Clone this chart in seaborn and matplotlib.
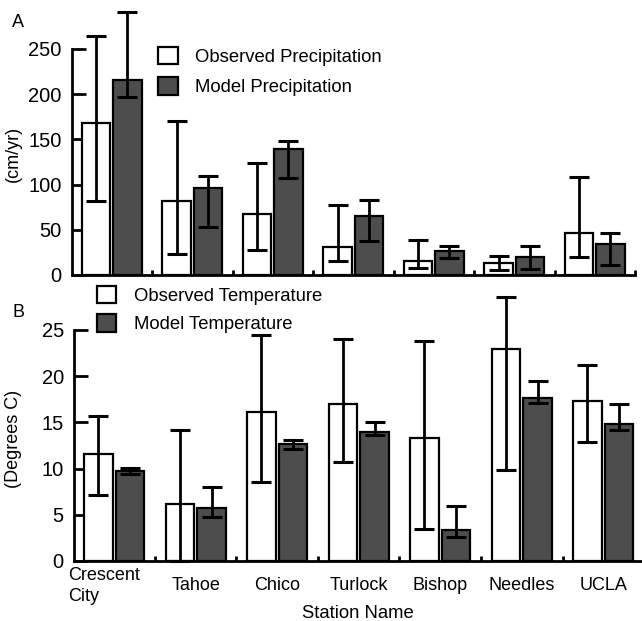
import matplotlib
matplotlib.use("Agg")
import matplotlib.pyplot as plt
import matplotlib.transforms as mtransforms
from matplotlib.ticker import FixedLocator
import seaborn as sns
import pandas as pd

# ---------------- data ----------------
stations = ["Crescent\nCity", "Tahoe", "Chico", "Turlock", "Bishop", "Needles", "UCLA"]

precip_names = ["Observed Precipitation", "Model Precipitation"]
obs_precip = [168, 82, 67, 31, 15, 13, 46]
obs_precip_lo = [82, 23, 28, 16, 8, 5, 20]
obs_precip_hi = [264, 170, 124, 77, 39, 21, 108]
model_precip = [216, 96, 139, 65, 26, 20, 34]
model_precip_lo = [197, 53, 107, 38, 19, 7, 11]
model_precip_hi = [291, 110, 148, 83, 32, 32, 47]

temp_names = ["Observed Temperature", "Model Temperature"]
obs_temp = [11.6, 6.2, 16.1, 17.0, 13.3, 22.9, 17.3]
obs_temp_lo = [7.1, 0.0, 8.5, 10.7, 3.5, 9.8, 12.9]
obs_temp_hi = [15.7, 14.2, 24.5, 24.0, 23.8, 28.6, 21.2]
model_temp = [9.7, 5.7, 12.7, 14.0, 3.4, 17.6, 14.8]
model_temp_lo = [9.4, 4.8, 12.1, 13.6, 2.6, 17.1, 14.2]
model_temp_hi = [10.1, 8.0, 13.1, 15.0, 6.0, 19.5, 17.0]

precip_ticks = [0, 50, 100, 150, 200, 250]
temp_ticks = [0, 5, 10, 15, 20, 25]

# ---------------- style ----------------
sns.set_theme(style="ticks", rc={
    "text.color": "black", "axes.labelcolor": "black",
    "xtick.color": "black", "ytick.color": "black",
    "axes.edgecolor": "black",
})
plt.rcParams["font.family"] = ["Liberation Sans", "DejaVu Sans"]

W, H = 642, 621
fig = plt.figure(figsize=(W / 100, H / 100), dpi=100)
ax1 = fig.add_axes([71.5 / W, 1 - 275 / H, 563.5 / W, 271.2 / H])
ax2 = fig.add_axes([73.5 / W, 1 - 561 / H, 570.5 / W, 272.6 / H])


def panel(ax, names, obs, obs_lo, obs_hi, mod, mod_lo, mod_hi, ymax, yticks,
          legend_xy, labelspacing):
    df = pd.DataFrame({
        "station": stations * 2,
        "series": [names[0]] * len(stations) + [names[1]] * len(stations),
        "value": list(obs) + list(mod),
    })
    sns.barplot(data=df, x="station", y="value", hue="series",
                order=stations, hue_order=names,
                palette={names[0]: "white", names[1]: "#4d4d4d"},
                saturation=1, width=0.78, gap=0.1,
                edgecolor="black", linewidth=1.6,
                errorbar=None, legend=False, ax=ax)
    bars = list(ax.containers)
    for cont, vals, lo, hi in zip(bars, [obs, mod], [obs_lo, mod_lo], [obs_hi, mod_hi]):
        xs = [p.get_x() + p.get_width() / 2 for p in cont.patches]
        yerr = [[v - l for v, l in zip(vals, lo)], [h - v for v, h in zip(vals, hi)]]
        ax.errorbar(xs, vals, yerr=yerr, fmt="none", ecolor="black",
                    elinewidth=2.0, capsize=7.2, capthick=2.2, zorder=3,
                    clip_on=False)

    ax.set_xlim(-0.5, len(stations) - 0.5)
    ax.set_ylim(0, ymax)
    ax.set_yticks(yticks)
    ax.set_yticklabels([str(t) for t in yticks])
    sns.despine(ax=ax)
    ax.spines["left"].set_bounds(yticks[0], yticks[-1])
    for s in ("left", "bottom"):
        ax.spines[s].set_linewidth(2.0)
    ax.set_axisbelow(True)
    ax.tick_params(axis="y", direction="in", length=10, width=2,
                   labelsize=14.5, pad=7)
    ax.xaxis.set_minor_locator(FixedLocator([i + 0.5 for i in range(len(stations))]))
    ax.tick_params(axis="x", which="minor", direction="in", length=3.5, width=2)
    ax.tick_params(axis="x", which="major", length=0)

    handles = [c.patches[0] for c in bars]
    ax.legend(handles, names, loc="upper left",
              bbox_to_anchor=(legend_xy[0] / W, 1 - legend_xy[1] / H),
              bbox_transform=fig.transFigure, frameon=False, fontsize=13.3,
              handlelength=1.08, handleheight=1.08, handletextpad=0.95,
              labelspacing=labelspacing, borderpad=0, borderaxespad=0)


panel(ax1, precip_names, obs_precip, obs_precip_lo, obs_precip_hi,
      model_precip, model_precip_lo, model_precip_hi, 300, precip_ticks,
      (158, 47), 0.6)
panel(ax2, temp_names, obs_temp, obs_temp_lo, obs_temp_hi,
      model_temp, model_temp_lo, model_temp_hi, 29.5, temp_ticks,
      (96.5, 286), 0.5)

# top panel: no category labels
ax1.tick_params(axis="x", which="major", labelbottom=False)
ax1.set_xlabel("")

# bottom panel: category labels
ax2.tick_params(axis="x", which="major", labelsize=13, pad=18)
for lbl in ax2.get_xticklabels():
    lbl.set_va("center")
    lbl.set_linespacing(1.35)
first = ax2.get_xticklabels()[0]
first.set_ha("left")
first.set_multialignment("left")
first.set_transform(first.get_transform() +
                    mtransforms.ScaledTranslation(-46 / 100, 0, fig.dpi_scale_trans))

ax1.set_ylabel("(cm/yr)", fontsize=13)
ax1.yaxis.set_label_coords((22 - 71.5) / 563.5, (275 - 154) / 271.2)
ax2.set_ylabel("(Degrees C)", fontsize=13)
ax2.yaxis.set_label_coords((22 - 73.5) / 570.5, (561 - 439) / 272.6)
ax2.set_xlabel("Station Name", fontsize=13.3, va="baseline")
ax2.xaxis.set_label_coords((358 - 73.5) / 570.5, (561 - 618) / 272.6)

fig.text(12 / W, 1 - 27 / H, "A", fontsize=13, ha="left", va="baseline")
fig.text(13 / W, 1 - 317 / H, "B", fontsize=13, ha="left", va="baseline")

fig.savefig("out.png", dpi=100)
